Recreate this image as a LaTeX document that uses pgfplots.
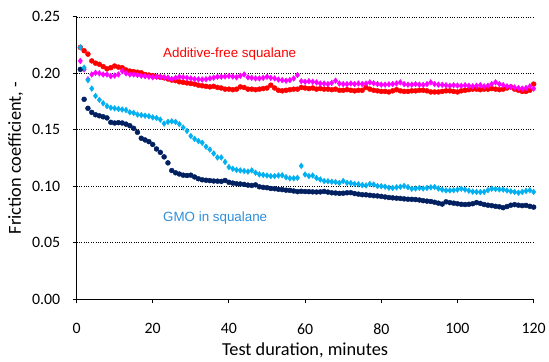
\documentclass[border=0pt]{standalone}
\usepackage{fontspec}
\setmainfont{Carlito}
\newfontfamily\annotfont{Liberation Sans}
\usepackage{pgfplots}
\usepackage{pgfplotstable}
\pgfplotsset{compat=1.18}

\definecolor{cRed}{HTML}{FF0000}
\definecolor{cMag}{HTML}{FF00FF}
\definecolor{cLight}{HTML}{00B0F0}
\definecolor{cNavy}{HTML}{002060}
\definecolor{cLabelBlue}{HTML}{2E8FD9}

% t: minutes; R: additive-free squalane; M: second base-oil run;
% B, N: GMO in squalane runs
\pgfplotstableread{
t R M B N
1 0.2230 0.2110 0.2230 0.2035
2 0.2200 0.2035 0.2050 0.1770
3 0.2170 0.1947 0.1940 0.1690
4 0.2110 0.1990 0.1865 0.1654
5 0.2090 0.2005 0.1800 0.1633
6 0.2080 0.2000 0.1765 0.1624
7 0.2060 0.1990 0.1735 0.1615
8 0.2040 0.1990 0.1710 0.1605
9 0.2050 0.1975 0.1695 0.1566
10 0.2065 0.1980 0.1690 0.1560
11 0.2055 0.1990 0.1685 0.1563
12 0.2050 0.2020 0.1680 0.1560
13 0.2030 0.2000 0.1675 0.1550
14 0.2020 0.1990 0.1655 0.1536
15 0.2015 0.1990 0.1650 0.1513
16 0.2010 0.1985 0.1635 0.1478
17 0.2005 0.1978 0.1630 0.1425
18 0.1990 0.1975 0.1625 0.1410
19 0.1985 0.1970 0.1620 0.1395
20 0.1980 0.1965 0.1610 0.1370
21 0.1970 0.1970 0.1605 0.1330
22 0.1965 0.1970 0.1590 0.1300
23 0.1960 0.1965 0.1555 0.1260
24 0.1950 0.1962 0.1570 0.1207
25 0.1940 0.1950 0.1575 0.1139
26 0.1935 0.1960 0.1570 0.1119
27 0.1925 0.1970 0.1550 0.1108
28 0.1920 0.1965 0.1520 0.1098
29 0.1915 0.1960 0.1490 0.1095
30 0.1910 0.1955 0.1445 0.1098
31 0.1905 0.1950 0.1420 0.1082
32 0.1895 0.1947 0.1400 0.1066
33 0.1890 0.1945 0.1385 0.1057
34 0.1885 0.1948 0.1350 0.1053
35 0.1880 0.1955 0.1325 0.1050
36 0.1885 0.1962 0.1290 0.1046
37 0.1875 0.1970 0.1255 0.1045
38 0.1870 0.1970 0.1255 0.1043
39 0.1860 0.1972 0.1215 0.1051
40 0.1860 0.1976 0.1170 0.1035
41 0.1855 0.1972 0.1155 0.1028
42 0.1860 0.1965 0.1145 0.1022
43 0.1880 0.1978 0.1140 0.1020
44 0.1875 0.1990 0.1135 0.1016
45 0.1860 0.1965 0.1130 0.1010
46 0.1860 0.1960 0.1140 0.1007
47 0.1855 0.1955 0.1120 0.1012
48 0.1860 0.1955 0.1105 0.0995
49 0.1865 0.1960 0.1100 0.0990
50 0.1870 0.1970 0.1095 0.0987
51 0.1895 0.1960 0.1090 0.0980
52 0.1870 0.1955 0.1090 0.0978
53 0.1850 0.1945 0.1095 0.0973
54 0.1845 0.1940 0.1097 0.0970
55 0.1850 0.1935 0.1080 0.0965
56 0.1855 0.1940 0.1070 0.0963
57 0.1860 0.1955 0.1070 0.0958
58 0.1860 0.1985 0.1075 0.0952
59 0.1875 0.1930 0.1180 0.0955
60 0.1870 0.1925 0.1104 0.0953
61 0.1865 0.1930 0.1090 0.0952
62 0.1870 0.1925 0.1095 0.0950
63 0.1860 0.1920 0.1072 0.0949
64 0.1865 0.1910 0.1060 0.0950
65 0.1860 0.1910 0.1046 0.0954
66 0.1860 0.1905 0.1044 0.0948
67 0.1855 0.1915 0.1040 0.0942
68 0.1860 0.1935 0.1037 0.0940
69 0.1850 0.1910 0.1030 0.0937
70 0.1850 0.1905 0.1046 0.0938
71 0.1855 0.1905 0.1030 0.0942
72 0.1850 0.1910 0.1028 0.0943
73 0.1845 0.1905 0.1020 0.0935
74 0.1850 0.1910 0.1018 0.0930
75 0.1850 0.1905 0.1010 0.0925
76 0.1875 0.1910 0.1007 0.0924
77 0.1860 0.1920 0.1020 0.0920
78 0.1850 0.1912 0.1015 0.0916
79 0.1845 0.1905 0.1002 0.0914
80 0.1840 0.1900 0.1000 0.0910
81 0.1840 0.1900 0.0996 0.0905
82 0.1835 0.1903 0.0987 0.0900
83 0.1845 0.1905 0.0985 0.0897
84 0.1855 0.1910 0.0990 0.0894
85 0.1845 0.1920 0.0995 0.0892
86 0.1840 0.1905 0.1002 0.0888
87 0.1840 0.1900 0.0992 0.0885
88 0.1845 0.1900 0.0978 0.0884
89 0.1845 0.1905 0.0980 0.0882
90 0.1850 0.1900 0.0985 0.0878
91 0.1850 0.1898 0.0980 0.0872
92 0.1845 0.1905 0.0985 0.0868
93 0.1835 0.1920 0.0990 0.0865
94 0.1835 0.1905 0.0993 0.0858
95 0.1835 0.1900 0.0980 0.0850
96 0.1840 0.1898 0.0970 0.0842
97 0.1845 0.1895 0.0963 0.0862
98 0.1845 0.1890 0.0963 0.0855
99 0.1840 0.1895 0.0965 0.0850
100 0.1835 0.1892 0.0970 0.0845
101 0.1845 0.1890 0.0978 0.0840
102 0.1850 0.1895 0.0970 0.0838
103 0.1855 0.1890 0.0960 0.0840
104 0.1860 0.1885 0.0952 0.0845
105 0.1860 0.1890 0.0950 0.0855
106 0.1855 0.1895 0.0948 0.0848
107 0.1860 0.1885 0.0950 0.0838
108 0.1860 0.1890 0.0965 0.0832
109 0.1865 0.1905 0.0978 0.0828
110 0.1860 0.1920 0.0975 0.0822
111 0.1855 0.1905 0.0972 0.0818
112 0.1860 0.1895 0.0970 0.0810
113 0.1870 0.1885 0.0962 0.0820
114 0.1880 0.1880 0.0955 0.0832
115 0.1860 0.1875 0.0950 0.0837
116 0.1850 0.1870 0.0943 0.0832
117 0.1840 0.1865 0.0950 0.0828
118 0.1840 0.1870 0.0958 0.0830
119 0.1850 0.1885 0.0965 0.0822
120 0.1905 0.1865 0.0950 0.0815
}\friction

\begin{document}
\begin{tikzpicture}
\begin{axis}[
  scale only axis,
  width=460bp, height=284bp,
  xmin=0, xmax=120, ymin=0, ymax=0.25,
  axis lines*=left,
  axis line style={black, line width=1pt},
  xtick={0,20,...,120},
  ytick={0,0.05,...,0.25},
  ymajorgrids,
  grid style={black, dotted, line width=0.6pt},
  tick align=outside,
  major tick length=4bp,
  tick style={black, line width=0.9pt},
  /pgf/number format/assume math mode=true,
  y tick label style={/pgf/number format/fixed, /pgf/number format/fixed zerofill, /pgf/number format/precision=2},
  ticklabel style={font=\fontsize{16}{18}\selectfont, black},
  xticklabel style={yshift=-17bp},
  yticklabel style={xshift=-9bp},
  xlabel={Test duration, minutes},
  ylabel={Friction coefficient, -},
  label style={font=\fontsize{18.5}{21}\selectfont, black},
  xlabel style={yshift=-2bp},
  ylabel style={yshift=2bp},
  clip=false,
]
\addplot[only marks, mark=*, mark size=2.5bp, color=cRed] table[x=t, y=R]{\friction};
\addplot[only marks, mark=diamond*, mark size=2.9bp, color=cMag] table[x=t, y=M]{\friction};
\addplot[only marks, mark=*, mark size=2.5bp, color=cNavy] table[x=t, y=N]{\friction};
\addplot[only marks, mark=diamond*, mark size=2.9bp, color=cLight] table[x=t, y=B]{\friction};

\node[font=\annotfont\fontsize{13.5}{15}\selectfont, text=cRed] at (axis cs:40.2,0.2170) {Additive-free squalane};
\node[font=\annotfont\fontsize{13.5}{15}\selectfont, text=cLabelBlue] at (axis cs:36.4,0.0715) {GMO in squalane};
\end{axis}
\path (current axis.south west) ++(-77bp,-59bp) coordinate (bbl);
\path (current axis.north east) ++(12bp,17bp) coordinate (bbr);
\useasboundingbox (bbl) rectangle (bbr);
\end{tikzpicture}
\end{document}
